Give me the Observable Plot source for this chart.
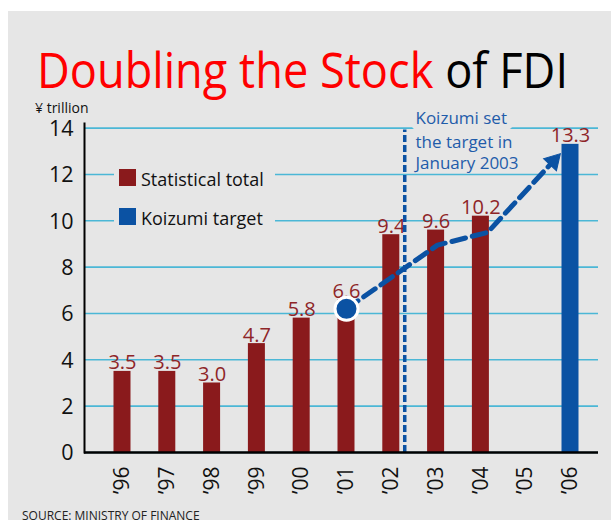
<!DOCTYPE html>
<html><head><meta charset="utf-8">
<script src="https://cdn.jsdelivr.net/npm/d3@7"></script>
<script src="https://cdn.jsdelivr.net/npm/@observablehq/plot@0.6"></script>
<style>
body{margin:0;background:#fff;font-family:"Open Sans",sans-serif;}
#wrap{position:relative;width:611px;height:520px;overflow:hidden;}
#panel{position:absolute;left:8px;top:11px;right:0;bottom:0;background:#e6e6e6;}
#chart{position:absolute;left:0;top:0;}
#title{position:absolute;left:37px;top:44px;font-size:50px;line-height:50px;white-space:nowrap;transform-origin:0 0;}
#title .red{color:#ff0000;}
#title .blk{color:#000;}
#unit{position:absolute;left:35px;top:101px;font-size:14px;line-height:14px;color:#111;}
#legend{position:absolute;left:114px;top:162px;width:161px;height:70px;background:#e6e6e6;}
.lg{position:absolute;left:5px;height:17px;font-size:18px;line-height:17px;color:#111;white-space:nowrap;}
.lg span.sw{position:absolute;left:0;top:0;width:17px;height:17px;}
.lg span.tx{position:absolute;left:22px;top:2px;}
#source{position:absolute;left:22px;top:508px;font-size:12px;line-height:16px;color:#222;white-space:nowrap;}
</style></head>
<body>
<div id="wrap">
  <div id="panel"></div>
  <div id="chart"></div>
  <div id="title"><span class="red">Doubling the Stock</span> <span class="blk">of FDI</span></div>
  <div id="unit">¥ trillion</div>
  <div id="legend"></div>
  <div id="source">SOURCE: MINISTRY OF FINANCE</div>
</div>
<script>
// ---- data ----
const years = [1996,1997,1998,1999,2000,2001,2002,2003,2004,2005,2006];
const statYears = [1996,1997,1998,1999,2000,2001,2002,2003,2004];
const statValues = [3.5,3.5,3.0,4.7,5.8,6.6,9.4,9.6,10.2];
const targetYears = [2006];
const targetValues = [13.3];
const yTicks = [0,2,4,6,8,10,12,14];
const pathYears = [2001, 2003.03, 2004.15, 2005.62];
const pathValues = [6.2, 8.95, 9.5, 12.58];
const announceYear = [2002.3];
const noteLines = ["Koizumi set", "the target in", "January 2003"];
const legendLabels = ["Statistical total", "Koizumi target"];

const RED = "#8a1a1c", BLUE = "#0b52a3", LABEL = "#8e2528", NOTE = "#1f5caa", GRID = "#4bb7d6", BG = "#e6e6e6";

const stat = statYears.map((y,i) => ({year:y, value:statValues[i]}));
const target = targetYears.map((y,i) => ({year:y, value:targetValues[i]}));
const bars = stat.concat(target);
const path = pathYears.map((y,i) => ({year:y, value:pathValues[i]}));

const halfBand = 0.5;
const plot = Plot.plot({
  width: 611, height: 520,
  marginLeft: 84, marginRight: 13, marginTop: 123, marginBottom: 68,
  style: {background: "transparent", fontFamily: "'Open Sans', sans-serif", overflow: "visible"},
  x: {domain: [1995.152, 2006.625], axis: null},
  y: {domain: [0, 14.2], axis: null},
  marks: [
    Plot.gridY({ticks: yTicks, stroke: GRID, strokeOpacity: 1, strokeWidth: 1.6}),
    Plot.axisY({ticks: yTicks, label: null, tickSize: 0, tickPadding: 11, fontSize: 21.5, fill: "#111", dy: 1}),
    Plot.axisX({ticks: years, label: null, tickSize: 0, tickPadding: 14, tickRotate: -90, fontSize: 21, fill: "#111",
      tickFormat: d => "\u2019" + String(d).slice(2)}),
    Plot.rectY(bars, {x1: d => d.year - halfBand, x2: d => d.year + halfBand, y: "value",
      insetLeft: 13.9, insetRight: 13.9, fill: d => d.year > 2004 ? BLUE : RED}),
    Plot.text(bars, {x: "year", y: "value", text: d => d.value.toFixed(1), lineAnchor: "bottom", dy: -2,
      fill: LABEL, fontSize: 20}),
    Plot.ruleX(announceYear, {y1: 0, y2: 14.05, stroke: BLUE, strokeWidth: 3.5, strokeDasharray: "7,3", insetBottom: -3}),
    Plot.text([noteLines[0]], {x: announceYear[0] + 0.24, y: 14.43, text: d => d, textAnchor: "start",
      fill: NOTE, fontSize: 17, stroke: BG, strokeWidth: 12}),
    Plot.text([noteLines.slice(1).join("\n")], {x: announceYear[0] + 0.24, y: 12.97, text: d => d, textAnchor: "start",
      lineHeight: 1.24, fill: NOTE, fontSize: 17}),
    Plot.ruleY([0], {stroke: "#000", strokeWidth: 2.5}),
    Plot.frame({anchor: "left", stroke: "#000", strokeWidth: 2}),
    Plot.line(path, {x: "year", y: "value", stroke: BLUE, strokeWidth: 5, strokeDasharray: "14,7"}),
    Plot.dot(path.slice(-1), {x: "year", y: "value", symbol: "triangle", r: 6.5, rotate: 43, fill: BLUE, stroke: BLUE, strokeWidth: 1}),
    Plot.dot(path.slice(0,1), {x: "year", y: "value", r: 11.5, fill: BLUE, stroke: "#fff", strokeWidth: 3})
  ]
});
document.getElementById("chart").appendChild(plot);

// legend
const lg = document.getElementById("legend");
[[legendLabels[0], RED, 7], [legendLabels[1], BLUE, 46]].forEach(([t,c,top]) => {
  const row = document.createElement("div");
  row.className = "lg"; row.style.top = top + "px";
  row.innerHTML = `<span class="sw" style="background:${c}"></span><span class="tx">${t}</span>`;
  lg.appendChild(row);
});

// fit title width
const title = document.getElementById("title");
const w = title.getBoundingClientRect().width;
title.style.transform = `scaleX(${531 / w})`;
</script>
</body></html>
